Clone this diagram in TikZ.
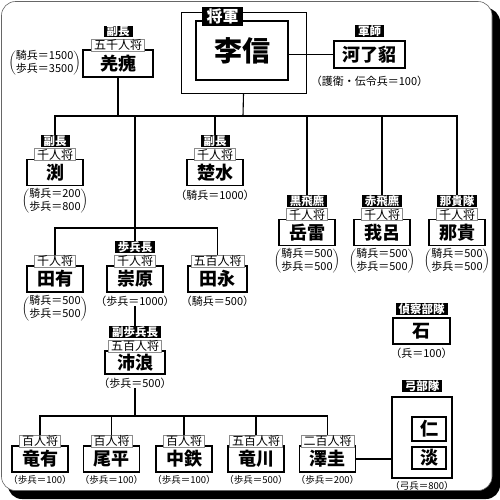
\documentclass[tikz,border=0pt]{standalone}
\usepackage{fontspec}
\setmainfont{Noto Sans CJK JP}
\usetikzlibrary{positioning}

\begin{document}
\begin{tikzpicture}[
    x=1pt, y=-1pt,
    namebox/.style={
        rectangle, draw=black, fill=white, line width=1.1pt,
        minimum width=56pt, minimum height=26pt, inner sep=1pt,
        font=\fontsize{18}{18}\selectfont\bfseries
    },
    rankbox/.style={
        rectangle, draw=black!45, fill=white, line width=0.8pt,
        inner xsep=2.5pt, inner ysep=0.5pt, font=\fontsize{12}{12}\selectfont
    },
    tagbox/.style={
        rectangle, fill=black, text=white, inner xsep=3pt, inner ysep=0.5pt,
        font=\fontsize{11.5}{11.5}\selectfont\bfseries
    },
    troop/.style={inner sep=0pt, font=\fontsize{11}{12.5}\selectfont},
    link/.style={line width=1.1pt, color=black},
]
\useasboundingbox (0,0) rectangle (500,499);
\fill[black, rounded corners=14pt] (8,8) rectangle (500,499);
\draw[black!60, fill=white, line width=0.6pt, rounded corners=14pt] (1.5,1.5) rectangle (492,490.5);

% general and strategist
\node[namebox, minimum width=125pt, minimum height=81pt, line width=0.9pt] (rishinout) at (243.5,52.5) {};
\node[namebox, minimum width=92pt, minimum height=59pt, font=\fontsize{28}{28}\selectfont\bfseries] (rishin) at (242,50.5) {李信};
\node[tagbox, minimum width=41pt, minimum height=19pt, font=\fontsize{16}{16}\selectfont\bfseries] (shogun) at (222.5,16.5) {将軍};

\node[namebox, minimum width=71pt, minimum height=27pt] (karyoten) at (369.5,54.5) {河了貂};
\node[tagbox, above=3pt of karyoten] (karyotentag) {軍師};
\node[troop, below=7pt of karyoten] (karyotentroop) {（護衛・伝令兵＝100）};

% vice commanders
\node[namebox, minimum width=70pt, minimum height=27pt] (kyokai) at (118,63.5) {羌瘣};
\node[rankbox, above=-2pt of kyokai] (kyokairank) {五千人将};
\node[tagbox, above=1pt of kyokairank] (kyokaitag) {副長};
\node[troop, left=1.5pt of kyokai] (kyokaitroop) {$\left(\begin{tabular}{@{}c@{}}騎兵＝1500\\歩兵＝3500\end{tabular}\right)$};

\node[namebox] (en) at (55,172.5) {渕};
\node[rankbox, above=-2pt of en] (enrank) {千人将};
\node[tagbox, above=1pt of enrank] (entag) {副長};
\node[troop, below=2pt of en] (entroop) {$\left(\begin{tabular}{@{}c@{}}騎兵＝200\\歩兵＝800\end{tabular}\right)$};

\node[namebox] (sosui) at (215,172.5) {楚水};
\node[rankbox, above=-2pt of sosui] (sosuirank) {千人将};
\node[tagbox, above=1pt of sosuirank] (sosuitag) {副長};
\node[troop, below=4pt of sosui] (sosuitroop) {（騎兵＝1000）};

% cavalry units
\foreach \n/\x/\name/\unit in {gakurai/307/岳雷/黒飛麃, gariyo/382/我呂/赤飛麃, naki/457/那貴/那貴隊} {
  \node[namebox] (\n) at (\x,232.5) {\name};
  \node[rankbox, above=-2pt of \n] (\n rank) {千人将};
  \node[tagbox, above=1pt of \n rank] (\n tag) {\unit};
  \node[troop, below=2pt of \n] (\n troop) {$\left(\begin{tabular}{@{}c@{}}騎兵＝500\\歩兵＝500\end{tabular}\right)$};
}

% infantry group
\node[namebox] (denyu) at (55,279) {田有};
\node[rankbox, above=-2pt of denyu] (denyurank) {千人将};
\node[troop, below=3pt of denyu] (denyutroop) {$\left(\begin{tabular}{@{}c@{}}騎兵＝500\\歩兵＝500\end{tabular}\right)$};

\node[namebox] (sugen) at (135,279) {崇原};
\node[rankbox, above=-2pt of sugen] (sugenrank) {千人将};
\node[tagbox, above=1pt of sugenrank] (sugentag) {歩兵長};
\node[troop, below=3pt of sugen] (sugentroop) {（歩兵＝1000）};

\node[namebox, minimum width=59pt] (denei) at (217.5,279) {田永};
\node[rankbox, above=-2pt of denei] (deneirank) {五百人将};
\node[troop, below=3pt of denei] (deneitroop) {（騎兵＝500）};

\node[namebox, minimum width=60pt, minimum height=23pt] (hairo) at (135,362.5) {沛浪};
\node[rankbox, above=-2pt of hairo] (hairorank) {五百人将};
\node[tagbox, above=1pt of hairorank] (hairotag) {副歩兵長};
\node[troop, below=3pt of hairo] (hairotroop) {（歩兵＝500）};

\foreach \i/\x/\rank/\name/\num in {1/40/百人将/竜有/100, 2/111.5/百人将/尾平/100, 3/184/百人将/中鉄/100, 4/256/五百人将/竜川/500, 5/327.5/二百人将/澤圭/200} {
  \node[namebox] (low\i) at (\x,459) {\name};
  \node[rankbox, above=-2pt of low\i] (lowrank\i) {\rank};
  \node[troop, below=3pt of low\i, font=\fontsize{9.5}{10}\selectfont] (lowtroop\i) {（歩兵＝\num）};
}

% scouts and archers
\node[namebox, minimum width=57pt] (seki) at (421.5,331) {石};
\node[tagbox, above=2pt of seki] (sekitag) {偵察部隊};
\node[troop, below=3pt of seki] (sekitroop) {（兵＝100）};

\node[namebox, fill=white, minimum width=60pt, minimum height=81pt] (kyu) at (422,437.5) {};
\node[tagbox, above=4pt of kyu] (kyutag) {弓部隊};
\node[namebox, minimum width=34pt, minimum height=24pt] (jin) at (429,429) {仁};
\node[namebox, minimum width=34pt, minimum height=22pt] (tan) at (429,458) {淡};
\node[troop, below=2.5pt of kyu, font=\fontsize{9.5}{10}\selectfont] (kyutroop) {（弓兵＝800）};

% connectors
\coordinate (mainbus) at (243,116);
\coordinate (subbus) at (135,228);
\coordinate (lowbus) at (135,416);

\draw[link] (rishinout.south) -- (mainbus);
\draw[link] (kyokai.south) -- (kyokai.south |- mainbus);
\draw[link] (entag.north) |- (mainbus) -| (nakitag.north);
\foreach \t in {sosuitag, gakuraitag, gariyotag}
  \draw[link] (\t.north) -- (\t.north |- mainbus);
\draw[link] (mainbus -| sugentag.north) -- (sugentag.north);
\draw[link] (denyurank.north) |- (subbus) -| (deneirank.north);
\draw[link] (sugentroop.south) -- (hairotag.north);
\draw[link] (hairotroop.south) -- (lowbus);
\draw[link] (lowrank1.north) |- (lowbus) -| (lowrank5.north);
\foreach \t in {lowrank2, lowrank3, lowrank4}
  \draw[link] (\t.north) -- (\t.north |- lowbus);
\draw[link] (rishin.east |- karyoten.west) -- (karyoten.west);
\draw[link] (low5.east) -- (low5.east -| kyu.west);

\end{tikzpicture}
\end{document}
